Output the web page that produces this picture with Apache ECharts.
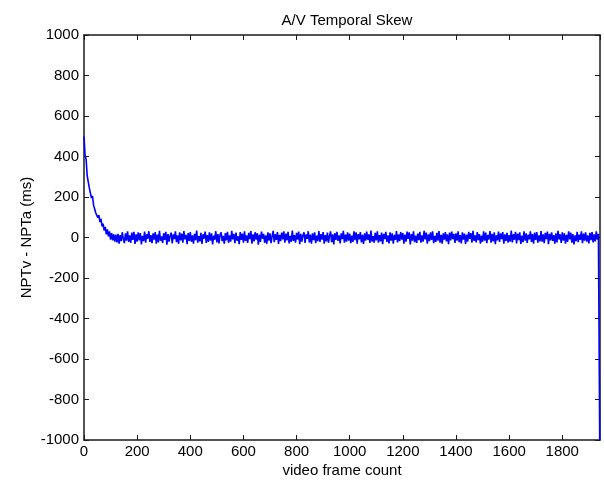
<!DOCTYPE html>
<html>
<head>
<meta charset="utf-8">
<script src="https://cdn.jsdelivr.net/npm/echarts@6/dist/echarts.min.js"></script>
<style>
html,body{margin:0;padding:0;background:#fff;}
#chart{width:604px;height:483px;}
</style>
</head>
<body>
<div id="chart"></div>
<script>
const titleText = 'A/V Temporal Skew';
const xName = 'video frame count';
const yName = 'NPTv - NPTa (ms)';
const xTicks = [0, 200, 400, 600, 800, 1000, 1200, 1400, 1600, 1800];
const yTicks = [-1000, -800, -600, -400, -200, 0, 200, 400, 600, 800, 1000];
const xMax = 1942;

const frames = [
0,4,8,12,16,20,24,28,32,36,40,44,48,52,56,60,64,68,72,76,80,84,88,92,96,
100,104,108,112,116,120,124,128,132,136,140,144,148,152,156,160,164,168,172,176,180,184,188,192,196,
200,204,208,212,216,220,224,228,232,236,240,244,248,252,256,260,264,268,272,276,280,284,288,292,296,
300,304,308,312,316,320,324,328,332,336,340,344,348,352,356,360,364,368,372,376,380,384,388,392,396,
400,404,408,412,416,420,424,428,432,436,440,444,448,452,456,460,464,468,472,476,480,484,488,492,496,
500,504,508,512,516,520,524,528,532,536,540,544,548,552,556,560,564,568,572,576,580,584,588,592,596,
600,604,608,612,616,620,624,628,632,636,640,644,648,652,656,660,664,668,672,676,680,684,688,692,696,
700,704,708,712,716,720,724,728,732,736,740,744,748,752,756,760,764,768,772,776,780,784,788,792,796,
800,804,808,812,816,820,824,828,832,836,840,844,848,852,856,860,864,868,872,876,880,884,888,892,896,
900,904,908,912,916,920,924,928,932,936,940,944,948,952,956,960,964,968,972,976,980,984,988,992,996,
1000,1004,1008,1012,1016,1020,1024,1028,1032,1036,1040,1044,1048,1052,1056,1060,1064,1068,1072,1076,1080,1084,1088,1092,1096,
1100,1104,1108,1112,1116,1120,1124,1128,1132,1136,1140,1144,1148,1152,1156,1160,1164,1168,1172,1176,1180,1184,1188,1192,1196,
1200,1204,1208,1212,1216,1220,1224,1228,1232,1236,1240,1244,1248,1252,1256,1260,1264,1268,1272,1276,1280,1284,1288,1292,1296,
1300,1304,1308,1312,1316,1320,1324,1328,1332,1336,1340,1344,1348,1352,1356,1360,1364,1368,1372,1376,1380,1384,1388,1392,1396,
1400,1404,1408,1412,1416,1420,1424,1428,1432,1436,1440,1444,1448,1452,1456,1460,1464,1468,1472,1476,1480,1484,1488,1492,1496,
1500,1504,1508,1512,1516,1520,1524,1528,1532,1536,1540,1544,1548,1552,1556,1560,1564,1568,1572,1576,1580,1584,1588,1592,1596,
1600,1604,1608,1612,1616,1620,1624,1628,1632,1636,1640,1644,1648,1652,1656,1660,1664,1668,1672,1676,1680,1684,1688,1692,1696,
1700,1704,1708,1712,1716,1720,1724,1728,1732,1736,1740,1744,1748,1752,1756,1760,1764,1768,1772,1776,1780,1784,1788,1792,1796,
1800,1804,1808,1812,1816,1820,1824,1828,1832,1836,1840,1844,1848,1852,1856,1860,1864,1868,1872,1876,1880,1884,1888,1892,1896,
1900,1904,1908,1912,1916,1920,1924,1928,1932,1936,
1941
];

const skew = [
500,405,385,305,300,245,250,195,205,160,162,122,128,98,110,76,92,55,68,34,52,16,40,6,30,
-10,22,-14,16,-20,14,-24,18,-30,12,-18,26,-8,-28,20,-15,30,-22,10,-26,24,-12,28,-32,15,
-20,26,-14,22,-34,8,-18,29,-25,16,-6,31,-22,12,-28,20,-10,27,-30,14,-24,33,-16,6,-27,
21,-12,28,-35,17,-20,9,24,-29,15,-8,30,-23,11,-31,25,-14,19,-26,32,-9,13,-33,22,-17,
27,-21,10,-30,18,-13,34,-25,7,-19,23,-32,16,-6,29,-27,12,-22,26,-15,20,-34,9,-11,31,
-24,17,-29,13,25,-18,8,-31,22,-14,28,-26,11,-20,33,-9,18,-28,24,-16,6,-33,27,-12,19,
-25,30,-17,10,-27,23,-8,32,-30,15,-19,26,-11,21,-35,14,-22,29,-6,18,-26,11,-31,25,-15,
20,-28,7,33,-23,16,-12,27,-32,13,-18,24,-9,30,-25,19,-14,28,-29,8,-21,34,-17,12,-26,
23,-11,29,-33,18,-20,10,26,-27,15,-7,31,-24,14,-30,21,-13,25,-28,9,-18,32,-22,17,-10,
27,-31,12,-19,24,-26,8,30,-23,16,-34,22,-12,28,-17,11,-29,20,-8,33,-25,14,-21,26,-15,
19,-28,9,-22,31,-13,25,-30,17,-9,27,-24,13,-32,21,-16,29,-11,15,-27,34,-20,7,-25,23,
-14,30,-26,12,-19,24,-33,18,-8,28,-22,10,-29,26,-15,20,-31,13,-12,32,-24,16,-18,27,-10,
22,-30,14,-21,29,-7,25,-34,17,-16,31,-23,9,-27,19,-13,28,-25,11,-20,33,-9,24,-31,15,
-18,26,-12,30,-28,8,-22,23,-15,32,-26,13,-30,20,-10,27,-19,16,-33,24,-14,29,-8,18,-27,
21,-16,31,-23,12,-29,25,-11,19,-32,14,-20,28,-7,22,-26,33,-17,10,-24,27,-13,17,-30,9,
-21,30,-15,24,-28,13,-10,32,-25,18,-19,26,-33,11,-14,29,-22,20,-8,27,-31,15,-17,23,-26,
12,-20,34,-24,16,-11,28,-29,19,-13,25,-32,9,-23,31,-16,21,-27,14,-9,30,-22,17,-30,24,
-12,27,-25,10,-19,32,-21,15,-28,23,-8,29,-33,18,-14,26,-17,12,-30,21,-24,33,-10,16,-27,
25,-15,20,-31,13,-22,30,-9,24,-26,17,-34,11,-18,28,-23,14,-12,31,-28,19,-16,26,-20,10,
-29,23,-13,27,-24,15,-19,30,-11,18,
-1000
];

const seriesData = frames.map((f, i) => [f, skew[i]]);
const font = 'Liberation Sans, Arial, Helvetica, sans-serif';
const axisColor = '#1a1a1a';
const fs = 15;

const chart = echarts.init(document.getElementById('chart'), null, {renderer: 'canvas'});

function baseAxis(extra) {
  return Object.assign({
    type: 'value',
    axisLine: {show: true, onZero: false, lineStyle: {color: axisColor, width: 1.5}},
    axisTick: {show: true, inside: true, length: 5, lineStyle: {color: axisColor, width: 1}},
    splitLine: {show: false}
  }, extra);
}

const plainLabel = v => String(v);

chart.setOption({
  animation: false,
  backgroundColor: '#ffffff',
  title: {
    text: titleText,
    left: 342,
    top: 8,
    textAlign: 'center',
    textStyle: {fontFamily: font, fontSize: fs, fontWeight: 'normal', color: '#000'}
  },
  grid: {left: 84, right: 4, top: 35, bottom: 42, containLabel: false},
  xAxis: [
    baseAxis({
      position: 'bottom', min: xTicks[0], max: xMax, interval: 200,
      name: xName, nameLocation: 'middle', nameGap: 23, nameMoveOverlap: false,
      nameTextStyle: {fontFamily: font, fontSize: fs, color: '#000'},
      axisLabel: {show: true, margin: 4, showMaxLabel: false, formatter: plainLabel, fontFamily: font, fontSize: fs, color: '#000'}
    }),
    baseAxis({
      position: 'top', min: xTicks[0], max: xMax, interval: 200,
      axisLabel: {show: false}
    })
  ],
  yAxis: [
    baseAxis({
      position: 'left', min: yTicks[0], max: yTicks[yTicks.length - 1], interval: 200,
      name: yName, nameLocation: 'middle', nameGap: 50, nameMoveOverlap: false,
      nameTextStyle: {fontFamily: font, fontSize: fs, color: '#000'},
      axisLabel: {show: true, margin: 5, formatter: plainLabel, fontFamily: font, fontSize: fs, color: '#000'}
    }),
    baseAxis({
      position: 'right', min: yTicks[0], max: yTicks[yTicks.length - 1], interval: 200,
      axisLabel: {show: false}
    })
  ],
  series: [{
    type: 'line',
    xAxisIndex: 0,
    yAxisIndex: 0,
    data: seriesData,
    showSymbol: false,
    symbol: 'none',
    clip: true,
    lineStyle: {color: '#0000ff', width: 1.6},
    z: 1
  }]
});
</script>
</body>
</html>
